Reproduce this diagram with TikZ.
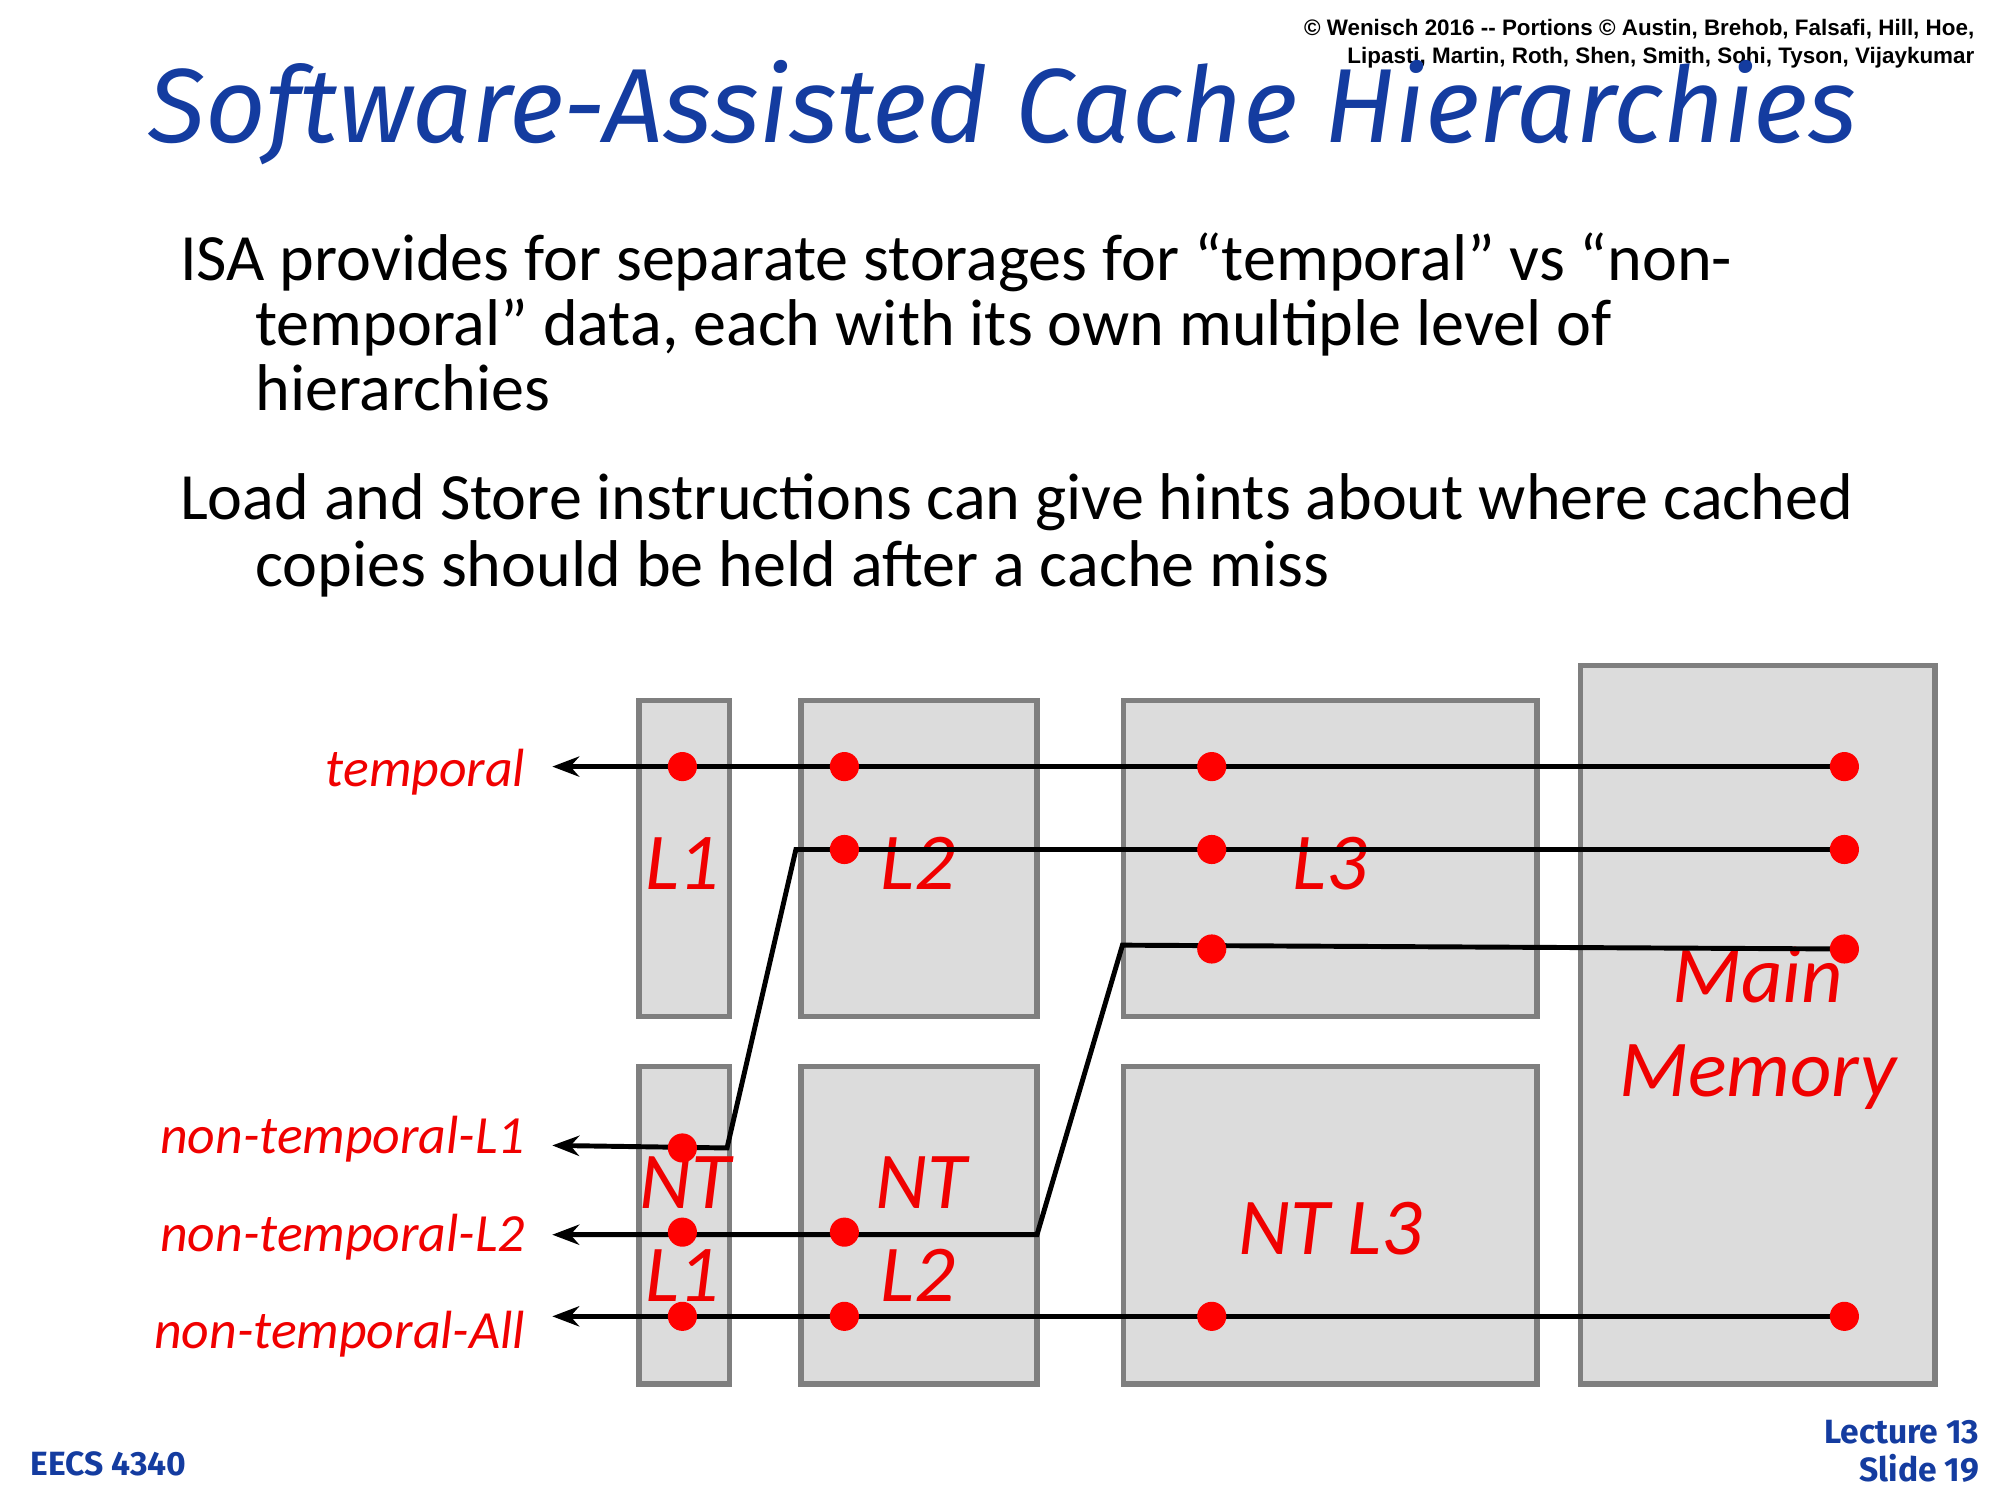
\documentclass[tikz,border=0pt]{standalone}
\usepackage{fontspec}
\setmainfont{Carlito}
\newfontfamily\credfont{Liberation Sans}
\newfontfamily\titlefont{Fira Sans}
\usetikzlibrary{arrows.meta}
\definecolor{boxgray}{RGB}{220,220,220}
\definecolor{edgegray}{RGB}{127,127,127}
\definecolor{slideblue}{RGB}{20,60,160}
\definecolor{hintred}{RGB}{240,0,0}
\tikzset{
  cachebox/.style={draw=edgegray, fill=boxgray, line width=2.3pt},
  boxlabel/.style={text=hintred, font=\fontsize{36}{40}\selectfont\itshape, align=center},
  hint/.style={text=hintred, font=\fontsize{24}{28}\selectfont\itshape, anchor=east},
  wire/.style={line width=2.2pt, black},
  dot/.style={circle, fill=red, inner sep=0pt, minimum size=13pt},
  body/.style={anchor=north west, font=\fontsize{29.5}{31}\selectfont}
}
\begin{document}
\begin{tikzpicture}[x=0.02cm, y=-0.02cm]
    \useasboundingbox (0,0) rectangle (1568,1176);
    %header
    \node[anchor=north east, align=right, font=\credfont\bfseries\fontsize{10}{12.5}\selectfont] (cred) at (1554,9)
      {© Wenisch 2016 -- Portions © Austin, Brehob, Falsafi, Hill, Hoe,\\Lipasti, Martin, Roth, Shen, Smith, Sohi, Tyson, Vijaykumar};
    \node[text=slideblue, font=\titlefont\itshape\fontsize{47}{52}\selectfont] (title) at (786,88) {Software-Assisted Cache Hierarchies};
    \node[body] (isa) at (135,176) {ISA provides for separate storages for “temporal” vs “non-};
    \node[body] (isa2) at (194,228) {temporal” data, each with its own multiple level of};
    \node[body] (isa3) at (194,280) {hierarchies};
    \node[body] (ld) at (135,365) {Load and Store instructions can give hints about where cached};
    \node[body] (ld2) at (194,418) {copies should be held after a cache miss};
    %boxes
    \draw[cachebox] (501,549) rectangle (572,797);
    \draw[cachebox] (501,836) rectangle (572,1085);
    \draw[cachebox] (628,549) rectangle (813,797);
    \draw[cachebox] (628,836) rectangle (813,1085);
    \draw[cachebox] (881,549) rectangle (1205,797);
    \draw[cachebox] (881,836) rectangle (1205,1085);
    \draw[cachebox] (1239,522) rectangle (1517,1085);
    \node[boxlabel] (l1) at (535,677) {L1};
    \node[boxlabel] (l2) at (720,677) {L2};
    \node[boxlabel] (l3) at (1043,677) {L3};
    \node[boxlabel] (ntl1a) at (537,927) {NT};
    \node[boxlabel] (ntl1b) at (535,1000) {L1};
    \node[boxlabel] (ntl2a) at (722,927) {NT};
    \node[boxlabel] (ntl2b) at (720,1000) {L2};
    \node[boxlabel] (ntl3) at (1043,963) {NT L3};
    \node[boxlabel, font=\fontsize{36}{42}\selectfont\itshape] (mem) at (1378,806) {Main\\Memory};
    %hint labels
    \node[hint] (tmp) at (418,605) {temporal};
    \node[hint] (nt1) at (418,893) {non-temporal-L1};
    \node[hint] (nt2) at (418,970) {non-temporal-L2};
    \node[hint] (ntall) at (418,1046) {non-temporal-All};
    \coordinate (tend) at (433,601);
    \coordinate (n1end) at (433,898);
    \coordinate (n2end) at (433,968);
    \coordinate (aend) at (433,1032);
    \coordinate (k1a) at (624,666);
    \coordinate (k1b) at (570,900);
    \coordinate (k2a) at (880,741);
    \coordinate (k2b) at (813,968);
    %wires
    \draw[wire, -{Stealth[length=12pt,width=9pt]}] (1446,601) -- (tend);
    \draw[wire, -{Stealth[length=12pt,width=9pt]}] (1446,666) -- (k1a) -- (k1b) -- (n1end);
    \draw[wire, -{Stealth[length=12pt,width=9pt]}] (1446,744) -- (k2a) -- (k2b) -- (n2end);
    \draw[wire, -{Stealth[length=12pt,width=9pt]}] (1446,1032) -- (aend);
    %dots
    \foreach \x in {535,662,950,1446} \node[dot] at (\x,601) {};
    \foreach \x in {662,950,1446} \node[dot] at (\x,666) {};
    \foreach \x in {950,1446} \node[dot] at (\x,744) {};
    \node[dot] at (535,900) {};
    \foreach \x in {535,662} \node[dot] at (\x,966) {};
    \foreach \x in {535,662,950,1446} \node[dot] at (\x,1032) {};
    %footer
    \node[anchor=west, text=slideblue, font=\titlefont\bfseries\fontsize{15}{17}\selectfont] (course) at (18,1148) {EECS 4340};
    \node[anchor=east, align=right, text=slideblue, font=\titlefont\bfseries\fontsize{15}{17}\selectfont] (slide) at (1558,1138) {Lecture 13\\Slide 19};
\end{tikzpicture}
\end{document}
